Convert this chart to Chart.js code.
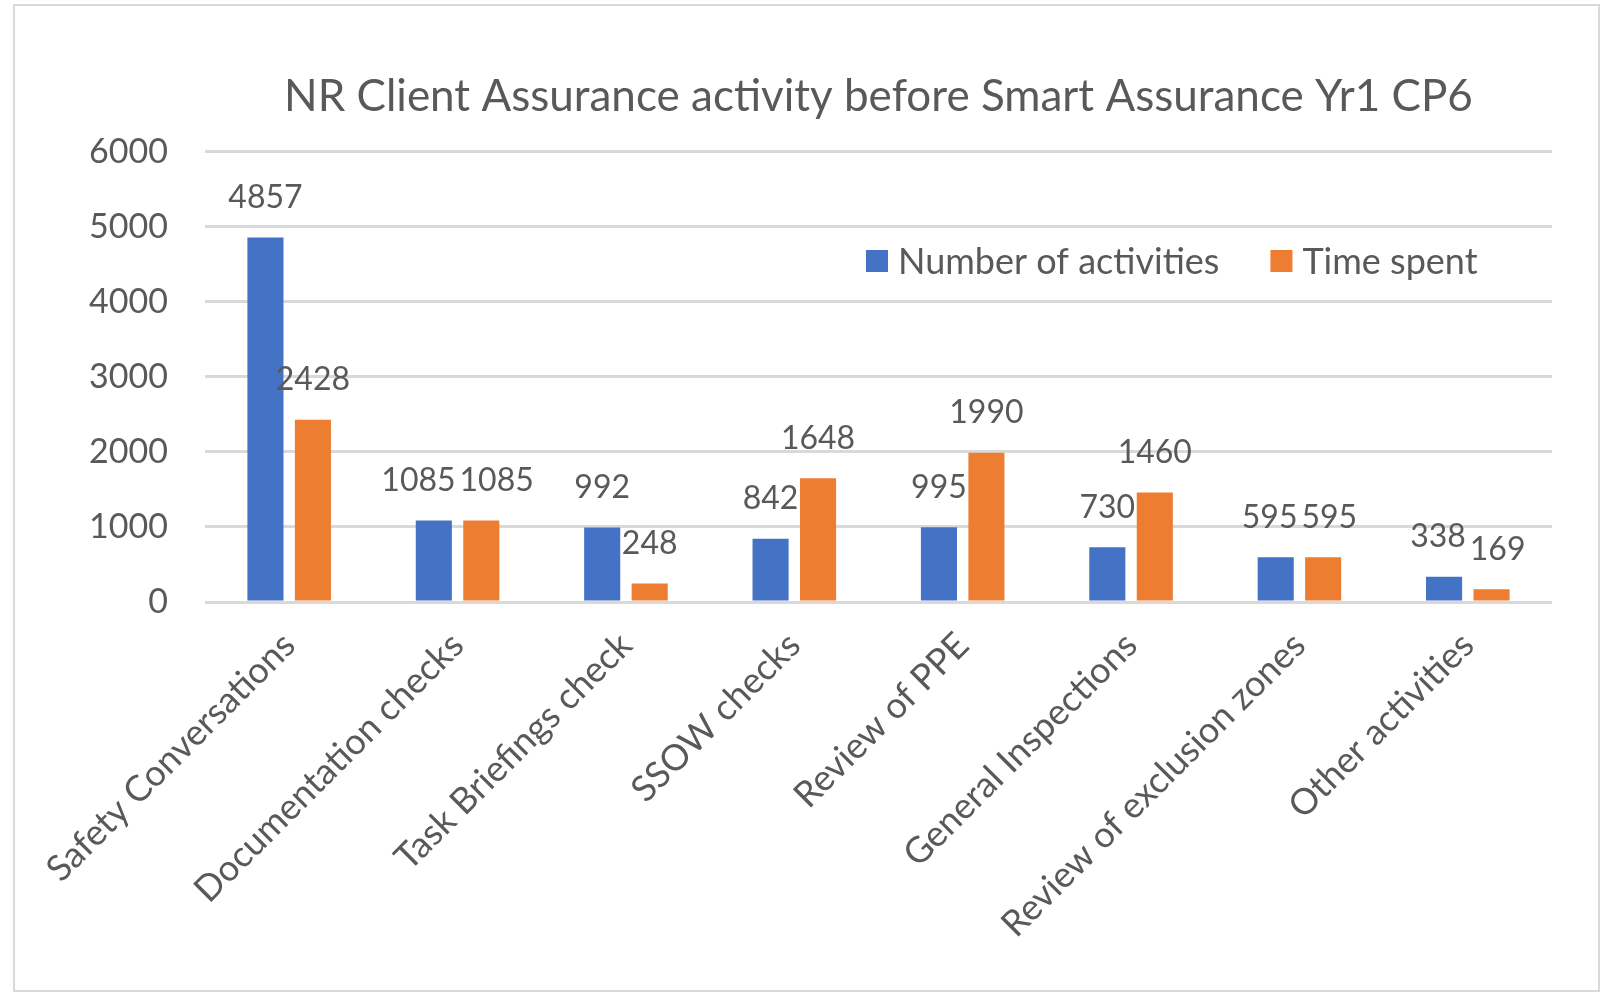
<!DOCTYPE html>
<html>
<head>
<meta charset="utf-8">
<script src="https://cdn.jsdelivr.net/npm/chart.js@4.4.1/dist/chart.umd.min.js"></script>
<style>
  html, body { margin:0; padding:0; background:#fff; overflow:hidden; }
  #wrap { position:relative; width:1610px; height:992px; }
  #frame { position:absolute; left:13px; top:4px; width:1587px; height:988px; border:2px solid #d9d9d9; box-sizing:border-box; pointer-events:none; }
  canvas { position:absolute; left:0; top:0; }
</style>
</head>
<body>
<div id="wrap">
  <canvas id="chart" width="1610" height="992"></canvas>
  <div id="frame"></div>
</div>
<script>
const categories = ['Safety Conversations','Documentation checks','Task Briefings check','SSOW checks',
  'Review of PPE','General Inspections','Review of exclusion zones','Other activities'];
const activities = [4857, 1085, 992, 842, 995, 730, 595, 338];
const timeSpent  = [2428, 1085, 248, 1648, 1990, 1460, 595, 169];
const yTicks = [0, 1000, 2000, 3000, 4000, 5000, 6000];

const TXT = '#595959';
const FONT = 'Lato, Carlito, Calibri, sans-serif';

// value labels above bars (no datalabels plugin available);
// two labels in one group that would collide get pushed apart
const valueLabels = {
  id:'valueLabels',
  afterDatasetsDraw(chart){
    const ctx = chart.ctx;
    ctx.save();
    ctx.font = `32px ${FONT}`;
    ctx.fillStyle = TXT;
    ctx.textAlign = 'center';
    ctx.textBaseline = 'middle';
    const a = chart.getDatasetMeta(0).data, b = chart.getDatasetMeta(1).data;
    const da = chart.data.datasets[0].data, db = chart.data.datasets[1].data;
    a.forEach((barA, j)=>{
      const barB = b[j];
      const ta = String(da[j]), tb = String(db[j]);
      const wa = ctx.measureText(ta).width, wb = ctx.measureText(tb).width;
      let xa = barA.x, xb = barB.x;
      const ya = barA.y - 40, yb = barB.y - 40;
      if (Math.abs(ya - yb) < 34){
        const need = (wa + wb)/2 + 4 - (xb - xa);
        if (need > 0){ xa -= need/2; xb += need/2; }
      }
      ctx.fillText(ta, xa, ya);
      ctx.fillText(tb, xb, yb);
    });
    ctx.restore();
  }
};

// legend sits inside the plot, top right
const innerLegend = {
  id:'innerLegend',
  afterDraw(chart){
    const ctx = chart.ctx;
    ctx.save();
    ctx.font = `36px ${FONT}`;
    ctx.textBaseline = 'middle';
    let x = 866;
    const y = 261, box = 22;
    chart.data.datasets.forEach(ds=>{
      ctx.fillStyle = ds.backgroundColor;
      ctx.fillRect(x, y - box/2, box, box);
      ctx.fillStyle = TXT;
      ctx.fillText(ds.label, x + box + 10, y + 1);
      x += box + 10 + ctx.measureText(ds.label).width + 51;
    });
    ctx.restore();
  }
};

new Chart(document.getElementById('chart'), {
  type:'bar',
  data:{
    labels:categories,
    datasets:[
      { label:'Number of activities', data:activities, backgroundColor:'#4472C4', categoryPercentage:0.564, barPercentage:0.76 },
      { label:'Time spent', data:timeSpent, backgroundColor:'#ED7D31', categoryPercentage:0.564, barPercentage:0.76 }
    ]
  },
  plugins:[valueLabels, innerLegend],
  options:{
    responsive:false,
    animation:false,
    devicePixelRatio:1,
    layout:{ padding:{ left:14, right:58, top:0, bottom:0 } },
    plugins:{
      legend:{ display:false },
      tooltip:{ enabled:false },
      title:{
        display:true,
        fullSize:false,
        text:'NR Client Assurance activity before Smart Assurance Yr1 CP6',
        color:TXT,
        font:{ family:FONT, size:44, weight:'normal' },
        padding:{ top:70, bottom:29 }
      }
    },
    scales:{
      x:{
        grid:{ display:false },
        border:{ display:false },
        ticks:{ color:TXT, font:{ family:FONT, size:36 }, minRotation:45, maxRotation:45, autoSkip:false, padding:14 },
        afterFit(scale){ scale.height = 390; }
      },
      y:{
        min:0, max:6000,
        afterBuildTicks(scale){ scale.ticks = yTicks.map(v=>({ value:v })); },
        grid:{ color:'#d9d9d9', lineWidth:3, drawTicks:false },
        border:{ display:false },
        ticks:{ color:TXT, font:{ family:FONT, size:34 }, padding:37, callback:(v)=>String(v) },
        afterFit(scale){ scale.width = 191; }
      }
    }
  }
});
</script>
</body>
</html>
